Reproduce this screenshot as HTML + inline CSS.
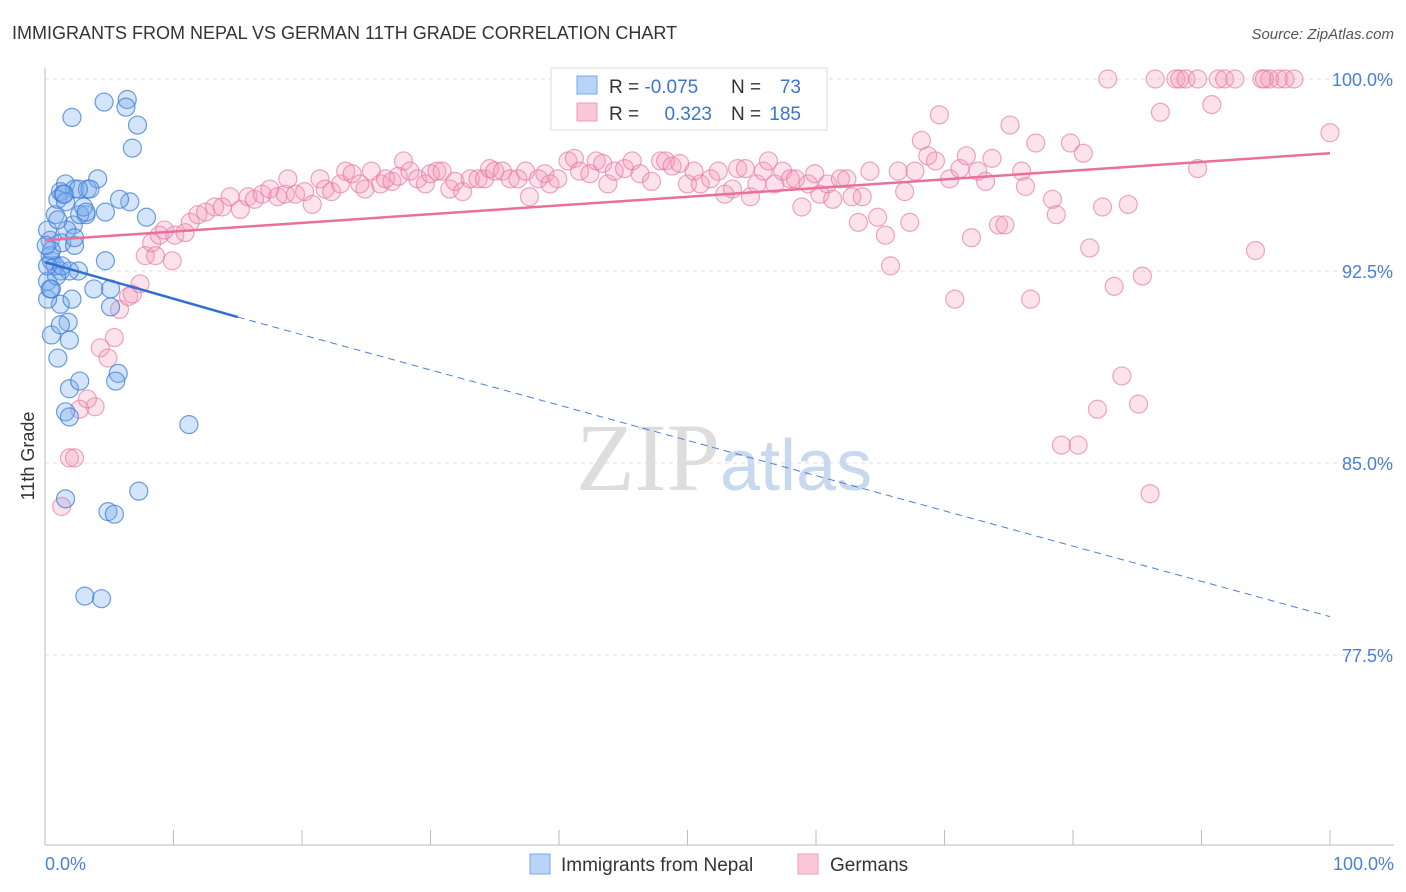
<!DOCTYPE html>
<html><head><meta charset="utf-8"><style>
body{margin:0;background:#fff;font-family:"Liberation Sans",sans-serif}
</style></head><body>
<svg id="c" width="1406" height="892" style="display:block">
<text x="12" y="39" font-size="18" fill="#333">IMMIGRANTS FROM NEPAL VS GERMAN 11TH GRADE CORRELATION CHART</text>
<text x="1394" y="39" font-size="15" fill="#555" text-anchor="end" font-style="italic">Source: ZipAtlas.com</text>
<text x="720" y="490" font-size="96" fill="#ddd" text-anchor="end" font-family="Liberation Serif">ZIP</text>
<text x="720" y="490" font-size="72" fill="#c8d8ee">atlas</text>
<g id="grid"></g><g id="axes"></g><g id="marks"></g>
<text x="34" y="456" font-size="18" fill="#333" text-anchor="middle" transform="rotate(-90 34 456)">11th Grade</text>
<text x="45" y="870" font-size="18" fill="#4a7fd8">0.0%</text>
<text x="1394" y="870" font-size="18" fill="#4a7fd8" text-anchor="end">100.0%</text>
<g>
<rect x="551" y="68" width="276" height="62" fill="#fff" stroke="#ddd"/>
<rect x="577" y="76" width="20" height="18" fill="#b7d3f7" stroke="#7aa8ea"/>
<rect x="577" y="103" width="20" height="18" fill="#fac7d7" stroke="#ee9bb7"/>
<text x="609" y="93" font-size="19" fill="#333">R = <tspan fill="#3a75d0">-0.075</tspan></text>
<text x="731" y="93" font-size="19" fill="#333">N =</text><text x="801" y="93" font-size="19" fill="#3a75d0" text-anchor="end">73</text>
<text x="609" y="120" font-size="19" fill="#333">R = </text><text x="712" y="120" font-size="19" fill="#3a75d0" text-anchor="end">0.323</text>
<text x="731" y="120" font-size="19" fill="#333">N =</text><text x="801" y="120" font-size="19" fill="#3a75d0" text-anchor="end">185</text>
</g>
<g>
<rect x="530" y="854" width="20" height="20" fill="#b7d3f7" stroke="#7aa8ea"/>
<text x="561" y="871" font-size="19" fill="#333">Immigrants from Nepal</text>
<rect x="798" y="854" width="20" height="20" fill="#fac7d7" stroke="#ee9bb7"/>
<text x="830" y="871" font-size="19" fill="#333">Germans</text>
</g>
</svg>
<script>
const yTicks=[100,92.5,85,77.5];
const yTickLabels=["100.0%","92.5%","85.0%","77.5%"];
const xTickCount=[0,10,20,30,40,50,60,70,80,90,100];
const nepalX=[2.1,4.6,6.4,6.3,7.2,6.8,1.2,1.6,2.3,3.3,4.1,6.6,7.9,4.7,3.2,2.2,0.8,0.4,0.5,0.2,1.2,2.6,4.7,3.8,5.1,1.2,0.5,1.8,1.9,1.0,1.9,2.7,5.7,5.5,1.6,1.9,11.2,1.6,7.3,4.9,5.4,3.1,4.4,0.2,0.4,1.0,1.3,1.7,2.7,3.5,2.6,1.4,0.8,0.2,1.9,1.2,0.5,2.3,3.0,1.6,0.9,0.2,0.5,0.1,1.0,1.5,2.3,3.2,5.1,5.8,0.4,1.3,2.1];
const nepalY=[98.5,99.1,99.2,98.9,98.2,97.3,95.6,95.9,95.7,95.7,96.1,95.2,94.6,94.8,94.7,94.3,94.7,93.7,92.9,92.1,92.5,92.5,92.9,91.8,91.1,91.2,90.0,90.5,89.8,89.1,87.9,88.2,88.5,88.2,87.0,86.8,86.5,83.6,83.9,83.1,83.0,79.8,79.7,91.4,93.1,95.3,93.6,94.1,94.7,95.7,95.7,95.5,92.7,94.1,92.5,90.4,91.8,93.5,95.0,95.2,92.3,92.7,93.3,93.5,94.5,95.5,93.8,94.8,91.8,95.3,91.8,92.7,91.4];
const germanX=[1.3,1.9,2.3,2.7,3.9,3.3,4.3,4.9,5.4,5.8,6.5,6.8,7.4,7.8,8.6,9.9,8.3,8.9,10.1,10.9,9.3,11.3,11.9,12.5,13.2,13.8,14.4,15.2,15.8,16.3,16.9,17.5,18.1,18.7,18.9,19.5,20.2,20.8,21.4,21.8,22.3,23.0,23.4,23.9,24.5,24.9,25.4,26.1,26.5,27.0,27.5,27.9,28.4,29.0,29.6,30.0,30.5,30.9,31.5,31.9,32.5,33.1,33.7,34.2,34.6,35.0,35.6,36.2,36.8,37.4,37.7,38.4,38.9,39.3,39.9,40.7,41.2,41.6,42.4,42.9,43.4,43.8,44.3,45.1,45.7,46.3,47.2,47.9,48.3,48.8,49.4,50.0,50.5,51.0,51.8,52.4,52.9,53.5,53.9,54.5,54.9,55.4,55.9,56.3,56.8,57.4,58.0,58.4,58.9,59.4,59.9,60.3,60.9,61.3,61.9,62.4,62.8,63.3,63.6,64.2,64.8,65.4,65.8,66.4,66.9,67.3,67.7,68.2,68.7,69.3,69.6,70.4,70.8,71.2,71.7,72.1,72.6,73.2,73.7,74.2,74.7,75.1,76.0,76.3,76.7,77.1,78.4,78.7,79.8,80.8,81.3,81.9,82.3,82.7,83.2,83.8,84.3,85.1,85.4,86.0,86.4,86.8,88.0,88.3,88.8,89.7,90.8,91.3,91.8,92.6,94.7,95.3,96.0,96.5,97.2,94.2,100,79.1,80.4,89.7,94.9];
const germanY=[83.3,85.2,85.2,87.1,87.2,87.5,89.5,89.1,89.9,91.0,91.5,91.6,92.0,93.1,93.1,92.9,93.6,93.9,93.9,94.0,94.1,94.4,94.7,94.8,95.0,95.0,95.4,94.9,95.4,95.3,95.5,95.7,95.4,95.5,96.1,95.5,95.6,95.1,96.1,95.7,95.6,95.9,96.4,96.3,95.9,95.7,96.4,95.9,96.1,96.0,96.2,96.8,96.4,96.1,95.9,96.3,96.4,96.4,95.7,96.0,95.6,96.1,96.1,96.1,96.5,96.4,96.4,96.1,96.1,96.4,95.4,96.1,96.3,95.9,96.1,96.8,96.9,96.4,96.3,96.8,96.7,95.9,96.4,96.5,96.8,96.3,96.0,96.8,96.8,96.6,96.7,95.9,96.4,95.9,96.1,96.4,95.5,95.7,96.5,96.5,95.4,95.9,96.4,96.8,95.9,96.4,96.1,96.1,95.0,95.9,96.3,95.5,95.9,95.3,96.1,96.1,95.4,94.4,95.4,96.4,94.6,93.9,92.7,96.4,95.6,94.4,96.4,97.6,97.0,96.8,98.6,96.1,91.4,96.5,97.0,93.8,96.4,96.0,96.9,94.3,94.3,98.2,96.4,95.8,91.4,97.5,95.3,94.7,97.5,97.1,93.4,87.1,95.0,100,91.9,88.4,95.1,87.3,92.3,83.8,100,98.7,100,100,100,96.5,99.0,100,100,100,100,100,100,100,100,93.3,97.9,85.7,85.7,100,100];
const nepalTrend=[92.85,90.7,79.0]; // at x=0, x=15 (end of solid), x=100
const germanTrend=[93.7,97.1]; // at x=0, x=100
const NS="http://www.w3.org/2000/svg";
const X0=45,X1=1330,Y100=79,PX=25.6;
const sx=v=>X0+(X1-X0)*v/100;
const sy=v=>Y100+(100-v)*PX;
function mk(tag,attrs,parent){const e=document.createElementNS(NS,tag);for(const k in attrs)e.setAttribute(k,attrs[k]);parent.appendChild(e);return e;}
const grid=document.getElementById('grid'),axes=document.getElementById('axes'),marks=document.getElementById('marks');
yTicks.forEach((t,i)=>{
 const l=mk('line',{x1:X0,x2:1394,y1:sy(t),y2:sy(t),stroke:'#ddd','stroke-dasharray':'4 4'},grid);
 
 
 const tx=mk('text',{x:1393,y:sy(t)+7,'font-size':18,fill:'#4a7fd8','text-anchor':'end'},grid);
 tx.textContent=yTickLabels[i];
 
 
});
const ya=mk('line',{x1:X0,x2:X0,y1:68,y2:845,stroke:'#bbb'},axes);


const xa=mk('line',{x1:X0,x2:1394,y1:845,y2:845,stroke:'#bbb'},axes);


xTickCount.forEach(t=>{const l=mk('line',{x1:sx(t),x2:sx(t),y1:830,y2:845,stroke:'#bbb'},axes);
 
 });
function pts(xs,ys,fill,stroke,name){xs.forEach((x,i)=>{const c=mk('circle',{cx:sx(x),cy:sy(ys[i]),r:9,fill:fill,stroke:stroke,'stroke-width':1.2},marks);
 
 });}
pts(germanX,germanY,'rgba(243,150,182,0.28)','rgba(230,120,160,0.65)','german-point');
pts(nepalX,nepalY,'rgba(120,170,235,0.32)','rgba(60,125,215,0.75)','nepal-point');
const gl=mk('line',{x1:sx(0),y1:sy(germanTrend[0]),x2:sx(100),y2:sy(germanTrend[1]),stroke:'#e8709a','stroke-width':2.5},marks);


const nl=mk('line',{x1:sx(0),y1:sy(nepalTrend[0]),x2:sx(15),y2:sy(nepalTrend[1]),stroke:'#2f6fd0','stroke-width':2.5},marks);


const nd=mk('line',{x1:sx(15),y1:sy(nepalTrend[1]),x2:sx(100),y2:sy(nepalTrend[2]),stroke:'#4a80d8','stroke-width':1,'stroke-dasharray':'7 5'},marks);


</script>
</body></html>
